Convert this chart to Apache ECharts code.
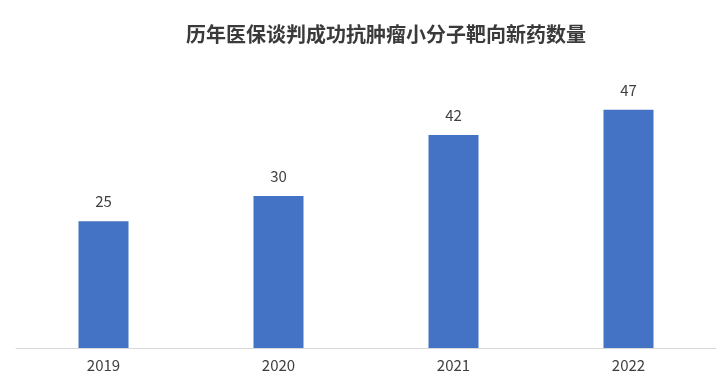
<!DOCTYPE html>
<html><head><meta charset="utf-8">
<script src="https://cdn.jsdelivr.net/npm/echarts@6/dist/echarts.min.js"></script>
<style>html,body{margin:0;padding:0;background:#fff}#c{width:727px;height:386px}</style>
</head><body><div id="c"></div>
<script>
const titleText = '历年医保谈判成功抗肿瘤小分子靶向新药数量';
const categories = ['2019', '2020', '2021', '2022'];
const values = [25, 30, 42, 47];

const chart = echarts.init(document.getElementById('c'));
chart.setOption({
  animation: false,
  backgroundColor: '#fff',
  title: {
    text: titleText,
    left: 181,
    top: 19,
    textStyle: { fontFamily: 'Noto Sans CJK SC', fontSize: 20, fontWeight: 'bold', color: '#3a3a3a' }
  },
  grid: { left: 16, right: 11, top: 94.5, bottom: 38, containLabel: false },
  xAxis: {
    type: 'category',
    data: categories,
    axisLine: { lineStyle: { color: '#d9d9d9', width: 1 } },
    axisTick: { show: false },
    axisLabel: { fontFamily: 'Noto Sans CJK SC', fontSize: 15, color: '#404040', margin: 10 }
  },
  yAxis: {
    type: 'value',
    min: 0, max: 50,
    show: false,
    splitLine: { show: false }
  },
  series: [{
    type: 'bar',
    data: values,
    barWidth: 50,
    itemStyle: { color: '#4472C4' },
    label: {
      show: true, position: 'top', distance: 12,
      fontFamily: 'Noto Sans CJK SC', fontSize: 15, color: '#404040'
    }
  }]
});
</script></body></html>
